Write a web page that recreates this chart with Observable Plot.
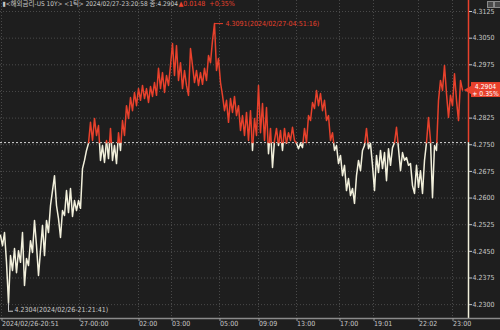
<!DOCTYPE html>
<html><head><meta charset="utf-8">
<script src="https://cdn.jsdelivr.net/npm/d3@7"></script>
<script src="https://cdn.jsdelivr.net/npm/@observablehq/plot@0.6"></script>
<style>
html,body{margin:0;padding:0;background:#1e1e1e;}
#wrap{position:relative;width:500px;height:330px;overflow:hidden;}
.btn{position:absolute;top:1px;width:5px;height:5px;border:1px solid #8a8a8a;background:#4a4a4a;}
</style></head><body><div id="wrap"><span class="btn" style="left:487px"></span><span class="btn" style="left:494px"></span></div>
<script>
// 1-tick yield series (US 10Y)
const values = [
4.2495,4.2466,4.2503,4.2419,4.2304,4.2438,4.2396,4.2458,4.2390,4.2452,
4.2419,4.2503,4.2354,4.2430,4.2410,4.2480,4.2447,4.2537,4.2466,4.2382,
4.2452,4.2523,4.2438,4.2537,4.2503,4.2579,4.2621,4.2663,4.2579,4.2542,
4.2489,4.2565,4.2551,4.2621,4.2559,4.2627,4.2548,4.2593,4.2565,4.2593,
4.2571,4.2683,4.2706,4.2734,4.2754,4.2813,4.2762,4.2824,4.2776,4.2804,
4.2706,4.2748,4.2700,4.2762,4.2711,4.2796,4.2706,4.2748,4.2697,4.2784,
4.2734,4.2818,4.2776,4.2860,4.2824,4.2883,4.2846,4.2897,4.2860,4.2908,
4.2875,4.2917,4.2880,4.2908,4.2869,4.2914,4.2886,4.2925,4.2889,4.2965,
4.2908,4.2953,4.2897,4.2945,4.2917,4.2973,4.3035,4.2945,4.3029,4.2931,
4.2981,4.2908,4.2959,4.2917,4.2889,4.3021,4.2973,4.2925,4.2959,4.2917,
4.2953,4.2920,4.2965,4.2931,4.3001,4.2981,4.3043,4.3091,4.2959,4.2993,
4.2925,4.2889,4.2846,4.2875,4.2813,4.2880,4.2841,4.2886,4.2832,4.2860,
4.2790,4.2832,4.2776,4.2841,4.2762,4.2846,4.2734,4.2824,4.2776,4.2917,
4.2784,4.2866,4.2762,4.2855,4.2725,4.2796,4.2686,4.2762,4.2796,4.2748,
4.2790,4.2734,4.2796,4.2754,4.2784,4.2762,4.2799,4.2762,4.2754,4.2739,
4.2754,4.2742,4.2796,4.2756,4.2832,4.2818,4.2869,4.2852,4.2903,4.2860,
4.2894,4.2846,4.2875,4.2818,4.2832,4.2762,4.2784,4.2734,4.2748,4.2697,
4.2720,4.2663,4.2692,4.2621,4.2655,4.2607,4.2627,4.2585,4.2663,4.2706,
4.2677,4.2734,4.2748,4.2796,4.2739,4.2754,4.2692,4.2621,4.2720,4.2672,
4.2734,4.2683,4.2728,4.2649,4.2739,4.2692,4.2742,4.2756,4.2799,4.2739,
4.2677,4.2728,4.2706,4.2714,4.2692,4.2697,4.2635,4.2613,4.2692,4.2630,
4.2677,4.2613,4.2706,4.2756,4.2827,4.2762,4.2601,4.2748,4.2734,4.2875,
4.2931,4.2903,4.2973,4.2894,4.2827,4.2889,4.2860,4.2950,4.2875,4.2818,
4.2931,4.2904
];
const lastValue = 4.2904;
const change = 0.0148;
const changePct = 0.35;
const baseValue = 4.2756;           // previous close (last - change)
const yTicks = [4.2300,4.2375,4.2450,4.2525,4.2600,4.2675,4.2750,4.2825,4.2900,4.2975,4.3050,4.3125];
const yDomain = [4.2261, 4.3156];
const xDomain = [0, 234];
const xTickIndex = [0.5, 39.5, 69, 85.5, 109.5, 129, 148, 169.5, 186.5, 209, 226];
const xTickLabels = ["2024/02/26-20:51","27-00:00","02:00","03:00","05:00","09:09","13:00","17:00","19:01","22:02","23:00"];
const minTime = "2024/02/26-21:21:41";
const maxTime = "2024/02/27-04:51:16";
const headerText = "▮<해외금리-US 10Y> <1틱> 2024/02/27-23:20:58 종:4.2904";

const RED = "#e8412c", CREAM = "#f2f0dc", TXT = "#c8c8c8", GRID = "#4a4a4a";
const FONT = "'Liberation Sans Narrow','DejaVu Sans Condensed','Noto Sans CJK KR',sans-serif";

// split series into runs above / below the previous close
const runs = [];
let cur = null;
values.forEach((v, i) => {
  const side = v >= baseValue ? "up" : "down";
  if (!cur) { cur = {side, pts: [{x: i, y: v}]}; runs.push(cur); return; }
  if (side !== cur.side) {
    const a = values[i - 1];
    const xc = i - 1 + (baseValue - a) / (v - a);
    cur.pts.push({x: xc, y: baseValue});
    cur = {side, pts: [{x: xc, y: baseValue}, {x: i, y: v}]};
    runs.push(cur);
  } else cur.pts.push({x: i, y: v});
});
const rows = runs.flatMap((r, k) => r.pts.map(p => ({...p, run: k, side: r.side})));
const upRows = rows.filter(d => d.side === "up");
const downRows = rows.filter(d => d.side === "down");

const minI = d3.minIndex(values), maxI = d3.maxIndex(values);
const minPt = {i: minI, v: values[minI]}, maxPt = {i: maxI, v: values[maxI]};
const labelOf = new Map(xTickIndex.map((d, k) => [d, xTickLabels[k]]));
// the current-value box hides the tick label it covers
const yLabelTicks = yTicks.filter(t => Math.abs(t - lastValue) > 0.002);

const chart = Plot.plot({
  width: 500, height: 330,
  marginLeft: 0, marginRight: 32, marginTop: 0, marginBottom: 12,
  style: {background: "#1e1e1e", color: TXT, fontFamily: FONT, fontSize: "7px"},
  x: {domain: xDomain},
  y: {domain: yDomain},
  marks: [
    Plot.gridY(yTicks, {stroke: GRID, strokeOpacity: 1, strokeDasharray: "1,2"}),
    Plot.gridX(xTickIndex, {stroke: GRID, strokeOpacity: 1, strokeDasharray: "1,2"}),
    Plot.ruleY([baseValue], {stroke: "#d8d8d8", strokeDasharray: "2,2"}),
    Plot.line(downRows, {x: "x", y: "y", z: "run", stroke: CREAM, strokeWidth: 1.5}),
    Plot.line(upRows, {x: "x", y: "y", z: "run", stroke: RED, strokeWidth: 1.5}),
    Plot.ruleX([xDomain[1]], {y1: yDomain[1], y2: baseValue, stroke: RED, strokeWidth: 1.5}),
    Plot.ruleX([xDomain[1]], {y1: baseValue, y2: yDomain[0], stroke: CREAM, strokeWidth: 1.5}),
    Plot.ruleY([yDomain[0]], {x1: xDomain[0], x2: 250, stroke: "#8a8a8a", strokeWidth: 1.5}),
    Plot.axisY(yLabelTicks, {anchor: "right", tickSize: 3, tickPadding: 1, tickFormat: d3.format(".4f"), label: null, fill: TXT, stroke: TXT}),
    Plot.axisX(xTickIndex, {anchor: "bottom", tickSize: 3, tickPadding: 0, tickFormat: d => labelOf.get(d), textAnchor: "start", dx: 0.5, label: null, fill: TXT, stroke: "#9a9a9a"}),
    // max annotation
    Plot.ruleY([maxPt], {y: "v", x1: "i", x2: "i", insetRight: -9, stroke: RED}),
    Plot.text([maxPt], {x: "i", y: "v", dx: 11, textAnchor: "start", fill: RED, text: d => `${d.v.toFixed(4)}(${maxTime})`}),
    // min annotation
    Plot.ruleX([minPt], {x: "i", y1: "v", y2: "v", insetBottom: -8, stroke: TXT}),
    Plot.ruleY([minPt], {y: "v", x1: "i", x2: "i", insetRight: -5, dy: 8, stroke: TXT}),
    Plot.text([minPt], {x: "i", y: "v", dx: 6, dy: 7, textAnchor: "start", fill: TXT, text: d => `${d.v.toFixed(4)}(${minTime})`}),
    // current value box
    Plot.rect([lastValue], {x1: 235.5, x2: 250, y1: d => d, y2: d => d, insetTop: -7.5, insetBottom: -7.5, fill: RED}),
    Plot.dot([lastValue], {x: 235.2, y: d => d, symbol: "triangle", r: 4.5, rotate: -90, fill: RED, stroke: "none"}),
    Plot.text([lastValue], {x: 242.5, y: d => d, fill: "white", fontSize: 6.8, lineHeight: 1.0, text: d => `${d.toFixed(4)}\n+ ${changePct.toFixed(2)}%`}),
    // header
    Plot.text([headerText], {frameAnchor: "top-left", dx: 2, dy: 1, lineAnchor: "top", textAnchor: "start", fill: TXT, fontSize: 6.5, text: d => d}),
    Plot.text([`▲${change.toFixed(4)}  +${changePct.toFixed(2)}%`], {frameAnchor: "top-left", dx: 178, dy: 1, lineAnchor: "top", textAnchor: "start", fill: RED, text: d => d})
  ]
});
document.getElementById("wrap").prepend(chart);
</script></body></html>
